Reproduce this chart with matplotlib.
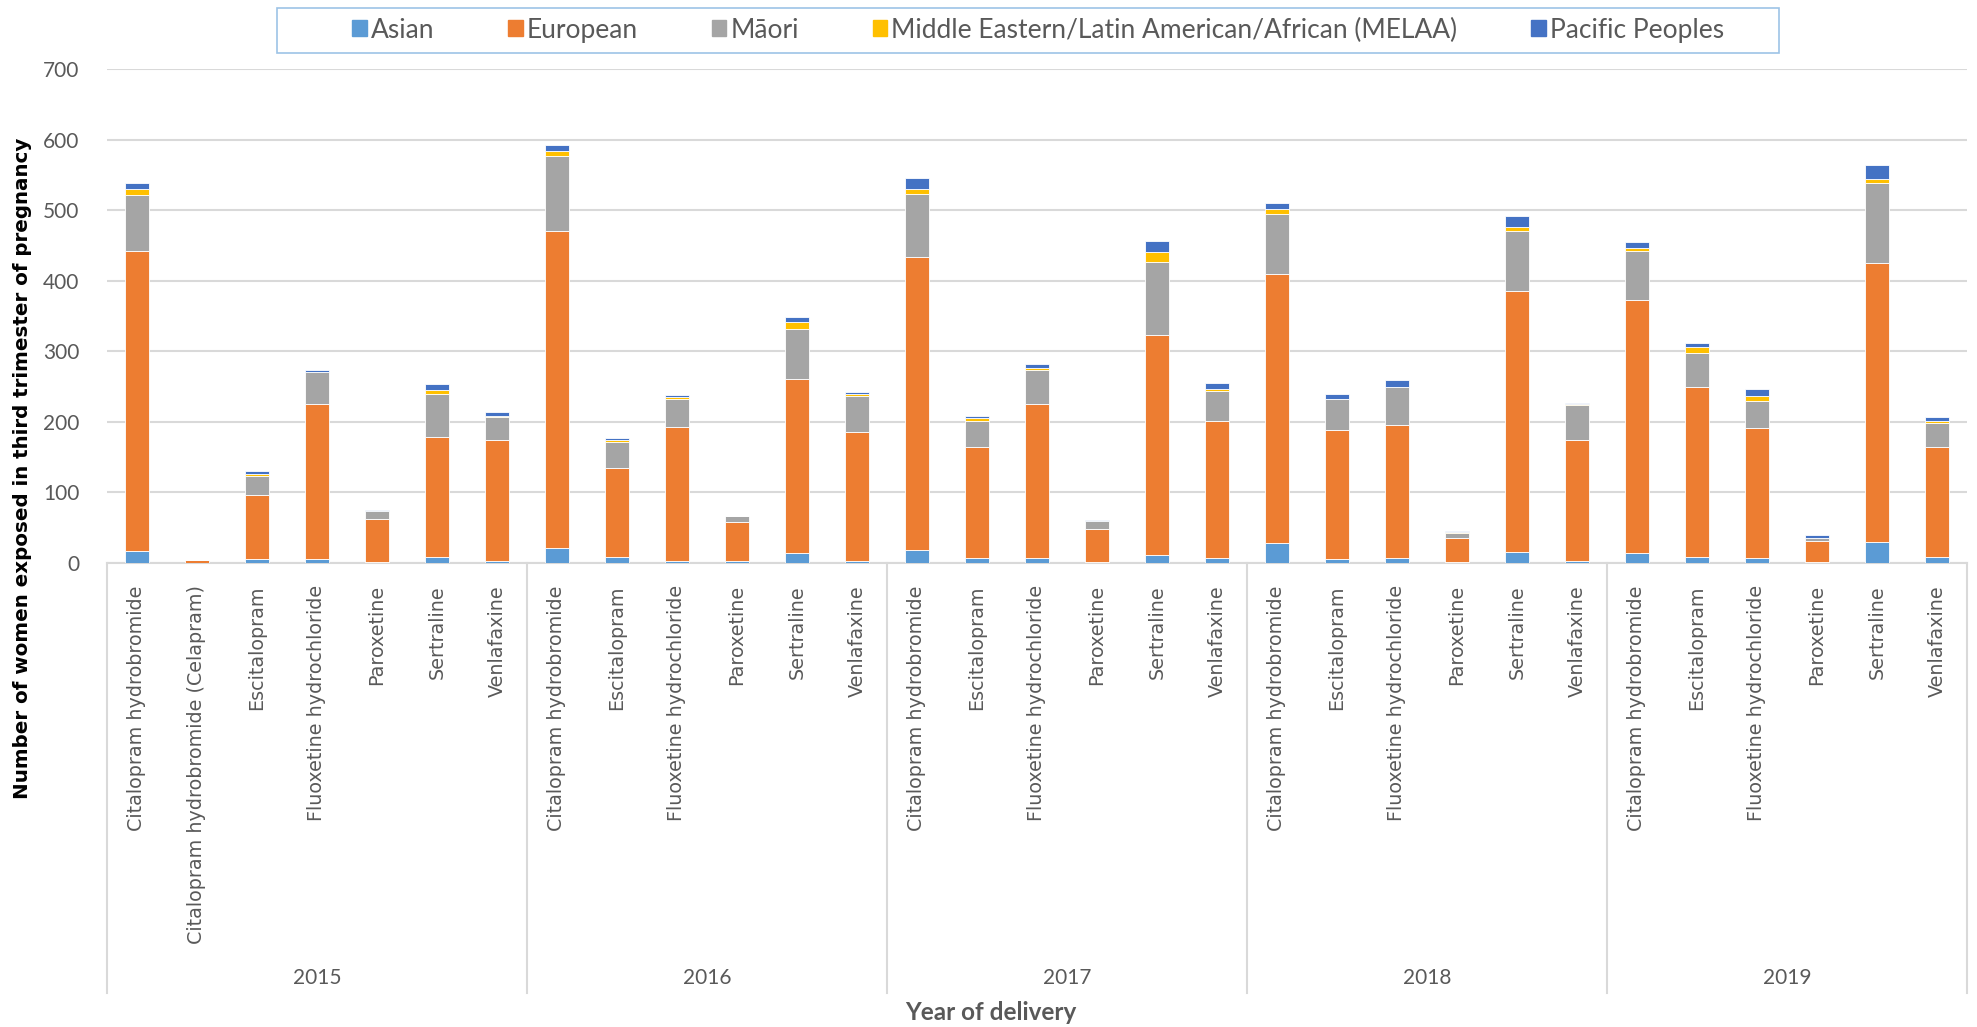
import matplotlib.pyplot as plt
import matplotlib.patches as mpatches
import matplotlib.transforms as mtransforms
import numpy as np

# data
years = ["2015", "2016", "2017", "2018", "2019"]
group_sizes = [7, 6, 6, 6, 6]
drugs = [
    "Citalopram hydrobromide", "Citalopram hydrobromide (Celapram)", "Escitalopram",
    "Fluoxetine hydrochloride", "Paroxetine", "Sertraline", "Venlafaxine",
    "Citalopram hydrobromide", "Escitalopram", "Fluoxetine hydrochloride",
    "Paroxetine", "Sertraline", "Venlafaxine",
    "Citalopram hydrobromide", "Escitalopram", "Fluoxetine hydrochloride",
    "Paroxetine", "Sertraline", "Venlafaxine",
    "Citalopram hydrobromide", "Escitalopram", "Fluoxetine hydrochloride",
    "Paroxetine", "Sertraline", "Venlafaxine",
    "Citalopram hydrobromide", "Escitalopram", "Fluoxetine hydrochloride",
    "Paroxetine", "Sertraline", "Venlafaxine",
]
asian = [17, 0, 5, 5, 1, 8, 3, 21, 8, 3, 3, 14, 3, 18, 7, 7, 2, 12, 7,
         28, 6, 7, 2, 15, 3, 14, 8, 7, 1, 30, 8]
european = [425, 4, 92, 221, 61, 170, 172, 450, 127, 190, 55, 247, 182,
            416, 157, 219, 46, 311, 194, 381, 182, 188, 33, 370, 172,
            358, 242, 184, 30, 395, 157]
maori = [80, 0, 26, 45, 11, 62, 32, 106, 36, 39, 8, 70, 52, 89, 37, 48, 12, 103, 43,
         85, 44, 54, 7, 85, 49, 70, 48, 38, 5, 113, 34]
melaa = [8, 0, 3, 0, 0, 5, 1, 7, 3, 3, 0, 11, 2, 7, 4, 2, 0, 14, 3,
         8, 1, 1, 2, 6, 1, 5, 8, 7, 0, 6, 2]
pacific = [9, 0, 4, 2, 2, 8, 6, 8, 3, 3, 1, 7, 4, 15, 4, 6, 1, 16, 8,
           8, 7, 9, 1, 15, 2, 8, 6, 10, 3, 20, 6]

series = [
    ("Asian", asian, "#5B9BD5"),
    ("European", european, "#ED7D31"),
    ("Māori", maori, "#A5A5A5"),
    ("Middle Eastern/Latin American/African (MELAA)", melaa, "#FFC000"),
    ("Pacific Peoples", pacific, "#4472C4"),
]

W, H = 1977, 1027
fig = plt.figure(figsize=(W / 100, H / 100), dpi=100)
ax = fig.add_axes([107 / W, 1 - 563 / H, (1967 - 107) / W, (563 - 69) / H])

x = np.arange(len(drugs))
bottom = np.zeros(len(drugs))
handles = []
for name, vals, col in series:
    vals = np.array(vals, dtype=float)
    ax.bar(x, vals, 0.4, bottom=bottom, color=col, edgecolor="white", linewidth=0.6, zorder=3)
    bottom += vals
    handles.append(mpatches.Patch(color=col, label=name))

ax.set_xlim(-0.5, len(drugs) - 0.5)
ax.set_ylim(0, 700)
ax.set_yticks(range(0, 701, 100))
ax.yaxis.grid(True, color="#D9D9D9", linewidth=1.5, zorder=0)
ax.set_axisbelow(True)
for s in ["top", "right", "left"]:
    ax.spines[s].set_visible(False)
ax.spines["bottom"].set_color("#D9D9D9")
ax.spines["bottom"].set_linewidth(1.5)
ax.tick_params(axis="y", length=0, pad=20, labelsize=15, labelcolor="#595959")
for t in ax.get_yticklabels():
    t.set_family("Lato")

ax.set_xticks(x)
ax.set_xticklabels(drugs, rotation=90, fontsize=13.8, color="#595959", family="DejaVu Sans", va="top")
ax.tick_params(axis="x", length=0, pad=16)

# year group lines and labels
trans = mtransforms.blended_transform_factory(ax.transData, ax.transAxes)
y_line = (563 - 993) / (563 - 69)
y_year = (563 - 978) / (563 - 69)
edges = np.concatenate([[0], np.cumsum(group_sizes)]) - 0.5
for e in edges:
    ax.plot([e, e], [0, y_line], transform=trans, color="#D9D9D9", linewidth=1.5, clip_on=False)
for i, yr in enumerate(years):
    ax.text((edges[i] + edges[i + 1]) / 2, y_year, yr, transform=trans, ha="center", va="center",
            fontsize=15, color="#595959", family="Lato")

fig.text(991 / W, 1 - 1013 / H, "Year of delivery", ha="center", va="center", fontsize=17.5,
         fontweight="bold", color="#595959", family="Lato")
fig.text(23 / W, 1 - 468 / H, "Number of women exposed in third trimester of pregnancy", rotation=90,
         ha="center", va="center", fontsize=14.3, fontweight="bold", color="black", family="DejaVu Sans")

# legend
fig.patches.append(mpatches.Rectangle((277 / W, 1 - 53 / H), (1779 - 277) / W, 45 / H,
                                      transform=fig.transFigure, fill=False,
                                      edgecolor="#9DC3E6", linewidth=1.2))
fig.legend(handles=handles, loc="center", bbox_to_anchor=(1038 / W, 1 - 30 / H), ncol=5,
           frameon=False, handlelength=0.55, handleheight=0.55, handletextpad=0.15,
           columnspacing=2.8, prop={"family": "Lato", "size": 19}, labelcolor="#595959")

fig.savefig("out.png", dpi=100)
